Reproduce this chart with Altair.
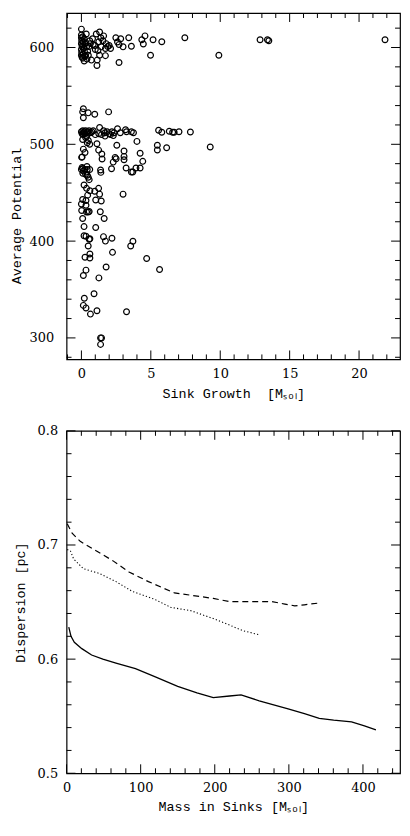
import altair as alt
import pandas as pd

# ---------------- top panel: sink growth vs average potential ----------------
growth = [
    0.0, 0.0, 0.0, 0.02, 0.0, 0.05, 0.0, 0.02, 0.0, 0.05, 0.1, 0.12, 0.1, 0.15, 0.12, 0.1,
    0.2, 0.25, 0.2, 0.22, 0.25, 0.2, 0.35, 0.33, 0.38, 0.3, 0.4, 0.45, 0.5, 0.55, 0.6, 0.65,
    0.72, 0.8, 0.85, 0.96, 1.07, 1.0, 1.12, 1.14, 1.19, 1.25, 1.31, 1.31, 1.4, 1.43, 1.55, 1.6,
    1.73, 1.73, 1.78, 1.9, 2.0, 2.1, 2.48, 2.6, 2.71, 2.71, 2.83, 3.0, 3.41, 3.6, 4.35, 4.46,
    4.58, 4.98, 5.16, 5.79, 7.45, 9.9, 12.87, 13.4, 13.5, 21.87,
    0.14, 0.09, 0.49, 0.96, 1.96, 0.14,
    0.0, 0.05, 0.1, 0.15, 0.2, 0.25, 0.3, 0.38, 0.45, 0.55, 0.65, 0.75, 0.85, 1.31, 1.25, 1.45,
    1.6, 1.7, 1.85, 2.0, 2.1, 2.2, 2.35, 2.6, 2.8, 3.18, 3.25, 3.6, 3.75, 5.56, 5.79, 6.33,
    6.57, 6.68, 7.03, 7.85, 1.0, 1.7, 2.3,
    0.14, 0.37, 0.09, 0.42, 0.6, 0.5, 0.3, 1.12,
    0.14, 0.02, 0.05, 0.26, 1.24, 1.47, 1.49, 2.55, 2.43, 2.5, 2.29, 3.07, 3.07, 3.07, 2.17, 3.22,
    3.6, 3.7, 3.93, 4.23, 4.0, 4.23, 4.42, 5.47, 5.47, 6.14, 9.28, 1.38, 1.4,
    0.0, 0.05, 0.1, 0.25, 0.14, 0.4, 0.42, 0.6, 0.42, 0.49, 0.56, 0.3, 0.1,
    0.19, 0.37, 0.61, 0.45, 1.24, 0.96, 1.31, 3.0, 1.03, 1.43, 0.09, 0.33, 0.0, 0.33, 0.02, 0.37,
    0.49, 0.56, 1.36, 0.09, 1.64, 0.19, 1.03,
    0.19, 0.33, 0.56, 0.61, 0.49, 1.59, 1.73, 2.2, 3.71, 3.55, 2.24, 0.26, 0.61, 0.61, 4.7, 5.63,
    1.78, 0.33, 0.14, 1.26, 0.91, 0.21, 0.14, 0.33, 0.65, 1.12, 3.25, 1.38, 1.45, 1.38,
]
potential = [
    619, 613, 610, 607, 604, 601, 598, 595, 592, 590, 611, 606, 603, 599, 593, 589,
    609, 604, 600, 596, 591, 586, 614, 605, 601, 592, 588, 596, 592, 601, 607, 604,
    587, 609, 603, 602, 614, 598, 581.5, 587, 597, 606, 616, 592, 610, 600.7, 607, 612,
    599, 591.6, 604, 601, 602, 599, 610, 605.7, 603, 584.5, 609, 600.7, 610, 601.3, 608, 603.7,
    612, 592, 608, 606, 610, 592, 608, 608, 607, 608,
    536.8, 533.5, 532.5, 531, 533.5, 527.4,
    513, 511, 514, 512, 513, 511, 514, 512, 513, 514, 512, 513, 514, 517.4, 511, 510,
    514, 512, 513, 511, 510, 513, 512, 516, 512, 515, 513, 513, 512, 514.5, 512.5, 513.5,
    512.5, 512.5, 513, 512.7, 510, 508.5, 509,
    510, 508, 505, 501.6, 500, 504, 507, 500.6,
    495, 486.5, 487, 491.5, 494, 490, 484.8, 499, 486.5, 485, 481.6, 493, 487.5, 484, 474.7, 475.6,
    471.4, 471.4, 475.6, 475.6, 503, 490.8, 482.4, 499, 494.2, 496.5, 497.2, 473.5, 471,
    474, 476, 475, 474, 472.5, 477, 474, 474, 468, 466, 463.5, 469, 470,
    458, 454.5, 452, 447.5, 454.5, 451.5, 448.5, 448.5, 442.5, 441.5, 443, 442, 438.4, 437, 431.7, 430,
    430, 430.5, 430.4, 423.3, 423.3, 415, 414,
    405.5, 405, 402, 402.5, 395, 404.6, 400, 403, 399.8, 395, 388.4, 383.3, 382.5, 386.7, 382, 370.6,
    373.3, 370, 364.5, 362, 345.7, 341, 333.6, 331, 324.6, 328, 327, 300, 300, 293.3,
]

# ---------------- bottom panel: dispersion vs mass in sinks ----------------
mass_solid = [3, 6, 10.5, 20.6, 33.8, 49, 66.7, 93, 119, 150, 176, 198, 220, 235.5, 260, 299,
              321, 341, 360.5, 384.6, 402, 417.5]
disp_solid = [0.628, 0.620, 0.6148, 0.6092, 0.6036, 0.600, 0.5965, 0.5917, 0.5846, 0.5762,
              0.5705, 0.5663, 0.5677, 0.5686, 0.5635, 0.5564, 0.5522, 0.548, 0.5465, 0.5451,
              0.5415, 0.538]
mass_dashed = [0.9, 7.5, 18.4, 40.4, 62.3, 84.2, 110.5, 145.6, 176.3, 198, 220, 251, 277,
               294.7, 307.9, 321, 338.6]
disp_dashed = [0.7187, 0.7103, 0.7032, 0.6947, 0.6863, 0.6764, 0.6679, 0.658, 0.6552, 0.6532,
               0.6504, 0.6504, 0.6504, 0.6482, 0.6467, 0.6476, 0.649]
mass_dotted = [0.9, 5.3, 9.6, 22.8, 44.7, 66.7, 88.6, 119, 141, 167.5, 198, 220, 237.7, 260]
disp_dotted = [0.6961, 0.6947, 0.6877, 0.6792, 0.675, 0.6679, 0.6594, 0.6524, 0.6453, 0.6425,
               0.6355, 0.6298, 0.625, 0.6213]

# tick values
top_x_major = [0, 5, 10, 15, 20]
top_x_minor = [v for v in range(-1, 23) if v % 5 != 0]
top_y_major = [300, 400, 500, 600]
top_y_minor = [v for v in range(280, 640, 20) if v % 100 != 0]
bot_x_major = [0, 100, 200, 300, 400]
bot_x_minor = [v for v in range(20, 450, 20) if v % 100 != 0]
bot_y_major = [0.5, 0.6, 0.7, 0.8]
bot_y_minor = [round(0.5 + 0.02 * i, 2) for i in range(1, 15) if i % 5 != 0]

LABEL_FONT = "DejaVu Serif"
TITLE_FONT = "Liberation Mono"
W = 336
H1, H2 = 349, 345
MAJ, MIN = 9, 5
NB = "\u00a0"


def tick_layers(xmaj, xmin, ymaj, ymin, xs, ys, xaxis, yaxis, xf, yf, H):
    layers = []
    for vals, L in ((xmaj, MAJ), (xmin, MIN)):
        base = alt.Chart(pd.DataFrame({xf: vals})).mark_rule(color="black", strokeWidth=1)
        enc_x = alt.X(f"{xf}:Q", scale=xs, axis=xaxis)
        layers.append(base.encode(x=enc_x, y=alt.value(H), y2=alt.value(H - L)))
        layers.append(base.encode(x=enc_x, y=alt.value(0), y2=alt.value(L)))
    for vals, L in ((ymaj, MAJ), (ymin, MIN)):
        base = alt.Chart(pd.DataFrame({yf: vals})).mark_rule(color="black", strokeWidth=1)
        enc_y = alt.Y(f"{yf}:Q", scale=ys, axis=yaxis)
        layers.append(base.encode(y=enc_y, x=alt.value(0), x2=alt.value(L)))
        layers.append(base.encode(y=enc_y, x=alt.value(W), x2=alt.value(W - L)))
    return layers


# top panel
xs1 = alt.Scale(domain=[-1.07, 22.95], nice=False, zero=False)
ys1 = alt.Scale(domain=[277.8, 635.6], nice=False, zero=False)
x_axis1 = alt.Axis(title=f"Sink Growth{NB}{NB}[Mₛₒₗ]", values=top_x_major, ticks=False,
                   domain=False, grid=False, labelPadding=8, titlePadding=6, labelFlush=False)
y_axis1 = alt.Axis(title="Average Potential", values=top_y_major, ticks=False,
                   domain=False, grid=False, labelPadding=13, titlePadding=6, labelFlush=False,
                   titleY=204)
scatter_df = pd.DataFrame({"growth": growth, "potential": potential})
scatter = alt.Chart(scatter_df).mark_point(
    shape="circle", filled=False, color="black", size=34, strokeWidth=1.2, opacity=1
).encode(
    x=alt.X("growth:Q", scale=xs1, axis=x_axis1),
    y=alt.Y("potential:Q", scale=ys1, axis=y_axis1),
)
top = alt.layer(
    scatter,
    *tick_layers(top_x_major, top_x_minor, top_y_major, top_y_minor, xs1, ys1,
                 x_axis1, y_axis1, "growth", "potential", H1)
).properties(width=W, height=H1)

# bottom panel
xs2 = alt.Scale(domain=[0, 450], nice=False, zero=False)
ys2 = alt.Scale(domain=[0.5, 0.8], nice=False, zero=False)
x_axis2 = alt.Axis(title="Mass in Sinks [Mₛₒₗ]", values=bot_x_major, ticks=False, domain=False,
                   grid=False, labelPadding=8, titlePadding=6, labelFlush=False)
y_axis2 = alt.Axis(title="Dispersion [pc]", values=bot_y_major, format=".1f", ticks=False,
                   domain=False, grid=False, labelPadding=9, titlePadding=10, labelFlush=False)


def line_layer(xv, yv, dash, width):
    df = pd.DataFrame({"mass": xv, "disp": yv})
    kw = dict(color="black", strokeWidth=width)
    if dash:
        kw["strokeDash"] = dash
    return alt.Chart(df).mark_line(**kw).encode(
        x=alt.X("mass:Q", scale=xs2, axis=x_axis2),
        y=alt.Y("disp:Q", scale=ys2, axis=y_axis2),
    )


lines = [
    line_layer(mass_solid, disp_solid, None, 1.3),
    line_layer(mass_dashed, disp_dashed, [6, 4], 1.2),
    line_layer(mass_dotted, disp_dotted, [1.2, 2.2], 1.1),
]
bottom = alt.layer(
    *lines,
    *tick_layers(bot_x_major, bot_x_minor, bot_y_major, bot_y_minor, xs2, ys2,
                 x_axis2, y_axis2, "mass", "disp", H2)
).properties(width=W, height=H2)

chart = alt.vconcat(top, bottom, spacing=72, bounds="flush").properties(
    padding={"left": 0, "top": 0, "right": 0, "bottom": 0}
).configure_view(
    stroke="black", strokeWidth=1.2
).configure_axis(
    labelFont=LABEL_FONT, titleFont=TITLE_FONT, labelFontSize=13, titleFontSize=13.5,
    labelColor="black", titleColor="black", titleFontWeight="normal"
)

chart.save("out.html", embed_options={"renderer": "svg", "actions": False})
